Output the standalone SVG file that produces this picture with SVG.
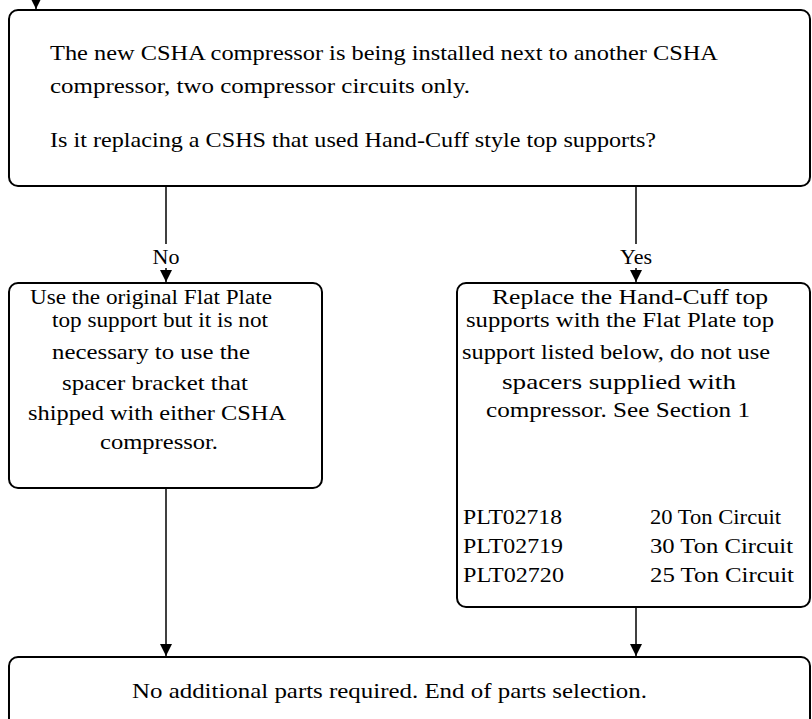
<svg xmlns="http://www.w3.org/2000/svg" width="812" height="719" viewBox="0 0 812 719">
<style>
.box{fill:#fff;stroke:#000;stroke-width:2}
.t{font-family:"Liberation Serif","Times New Roman",serif;font-size:22px;fill:#000}
.s{font-size:20px}
.c{stroke:#000;stroke-width:1.5;fill:none}
</style>
<defs>
<marker id="a" markerWidth="12" markerHeight="12" refX="12" refY="6" orient="auto" markerUnits="userSpaceOnUse" viewBox="0 0 12 12">
<path d="M0,0 L12,6 L0,12 Z" fill="#000"/>
</marker>
</defs>
<g id="connectors">
<line class="c" x1="36" y1="-2" x2="36" y2="9" marker-end="url(#a)"/>
<line class="c" x1="166" y1="186" x2="166" y2="244"/>
<line class="c" x1="166" y1="268" x2="166" y2="282" marker-end="url(#a)"/>
<text class="t" x="166" y="264" text-anchor="middle">No</text>
<line class="c" x1="636" y1="186" x2="636" y2="244"/>
<line class="c" x1="636" y1="268" x2="636" y2="282" marker-end="url(#a)"/>
<text class="t" x="636" y="264" text-anchor="middle">Yes</text>
<line class="c" x1="166" y1="488" x2="166" y2="656" marker-end="url(#a)"/>
<line class="c" x1="636" y1="607" x2="636" y2="656" marker-end="url(#a)"/>
</g>
<g id="q1">
<rect class="box" x="9" y="10" width="801" height="176" rx="9"/>
<text class="t" x="50" y="60" textLength="668" lengthAdjust="spacingAndGlyphs">The new CSHA compressor is being installed next to another CSHA</text>
<text class="t" x="50" y="93" textLength="420" lengthAdjust="spacingAndGlyphs">compressor, two compressor circuits only.</text>
<text class="t" x="50" y="147" textLength="606" lengthAdjust="spacingAndGlyphs">Is it replacing a CSHS that used Hand-Cuff style top supports?</text>
</g>
<g id="no">
<rect class="box" x="9" y="283" width="313" height="205" rx="9"/>
<text class="t s" x="30" y="304" textLength="242" lengthAdjust="spacingAndGlyphs">Use the original Flat Plate</text>
<text class="t s" x="52" y="327" textLength="216" lengthAdjust="spacingAndGlyphs">top support but it is not</text>
<text class="t" x="52" y="359" textLength="198" lengthAdjust="spacingAndGlyphs">necessary to use the</text>
<text class="t" x="62" y="390" textLength="186" lengthAdjust="spacingAndGlyphs">spacer bracket that</text>
<text class="t" x="28" y="420" textLength="258" lengthAdjust="spacingAndGlyphs">shipped with either CSHA</text>
<text class="t" x="100" y="449" textLength="118" lengthAdjust="spacingAndGlyphs">compressor.</text>
</g>
<g id="yes">
<rect class="box" x="457" y="283" width="353" height="324" rx="9"/>
<text class="t s" x="492" y="304" textLength="276" lengthAdjust="spacingAndGlyphs">Replace the Hand-Cuff top</text>
<text class="t s" x="466" y="327" textLength="308" lengthAdjust="spacingAndGlyphs">supports with the Flat Plate top</text>
<text class="t" x="462" y="359" textLength="308" lengthAdjust="spacingAndGlyphs">support listed below, do not use</text>
<text class="t" x="502" y="389" textLength="234" lengthAdjust="spacingAndGlyphs">spacers supplied with</text>
<text class="t" x="486" y="417" textLength="264" lengthAdjust="spacingAndGlyphs">compressor. See Section 1</text>
<text class="t" x="463" y="524" textLength="99" lengthAdjust="spacingAndGlyphs">PLT02718</text>
<text class="t" x="650" y="524" textLength="131" lengthAdjust="spacingAndGlyphs">20 Ton Circuit</text>
<text class="t" x="463" y="553" textLength="100" lengthAdjust="spacingAndGlyphs">PLT02719</text>
<text class="t" x="650" y="553" textLength="143" lengthAdjust="spacingAndGlyphs">30 Ton Circuit</text>
<text class="t" x="463" y="582" textLength="101" lengthAdjust="spacingAndGlyphs">PLT02720</text>
<text class="t" x="650" y="582" textLength="144" lengthAdjust="spacingAndGlyphs">25 Ton Circuit</text>
</g>
<g id="end">
<rect class="box" x="9" y="657" width="801" height="80" rx="9"/>
<text class="t" x="132" y="698" textLength="515" lengthAdjust="spacingAndGlyphs">No additional parts required. End of parts selection.</text>
</g>
</svg>
